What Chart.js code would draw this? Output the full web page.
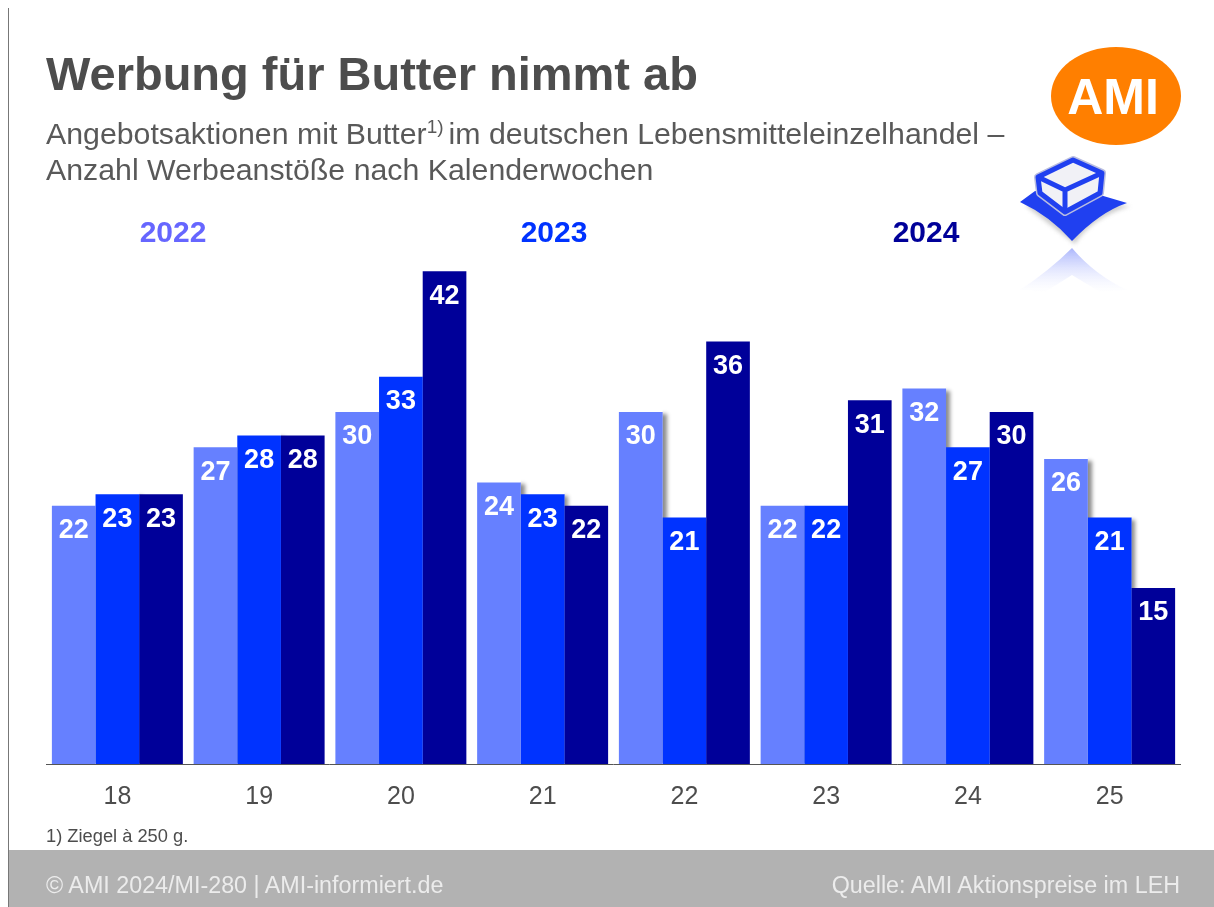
<!DOCTYPE html>
<html lang="de">
<head>
<meta charset="utf-8">
<title>Werbung für Butter nimmt ab</title>
<script src="https://cdn.jsdelivr.net/npm/chart.js@4"></script>
<style>
  html, body { margin: 0; padding: 0; background: #fff; }
  body { position: relative; width: 1214px; height: 907px; overflow: hidden; font-family: "Liberation Sans", Arial, sans-serif; }
  canvas { position: absolute; left: 0; top: 0; }
  .txt { position: absolute; white-space: nowrap; line-height: 1; }
  #title { left: 46px; top: 50px; font-size: 47px; font-weight: bold; color: #4d4d4d; }
  .sub { left: 46px; font-size: 30.3px; color: #595959; }
  .sub sup { font-size: 19px; line-height: 0; vertical-align: 11px; margin-right: 5px; }
  .year { top: 217px; font-size: 30px; font-weight: bold; transform: translateX(-50%); }
  #note { left: 46px; top: 827px; font-size: 18.3px; color: #4d4d4d; }
  #footer { position: absolute; left: 9px; top: 850px; width: 1205px; height: 57px; background: #b2b2b2; }
  #rule { position: absolute; left: 8px; top: 8px; width: 1px; height: 899px; background: #777; }
  .foot { top: 874px; font-size: 23.3px; color: #ececec; }
  #logo { position: absolute; left: 1000px; top: 30px; }
</style>
</head>
<body>
<div id="footer"></div>
<div id="rule"></div>
<canvas id="chart" width="1214" height="907"></canvas>

<div class="txt" id="title">Werbung für Butter nimmt ab</div>
<div class="txt sub" style="top:119px">Angebotsaktionen mit Butter<sup>1)</sup>im deutschen Lebensmitteleinzelhandel –</div>
<div class="txt sub" style="top:155px">Anzahl Werbeanstöße nach Kalenderwochen</div>
<div class="txt year" style="left:173px;color:#6666ff">2022</div>
<div class="txt year" style="left:554px;color:#0033ff">2023</div>
<div class="txt year" style="left:926px;color:#000099">2024</div>
<div class="txt" id="note">1) Ziegel à 250 g.</div>
<div class="txt foot" style="left:46px">© AMI 2024/MI-280 | AMI-informiert.de</div>
<div class="txt foot" style="right:34px">Quelle: AMI Aktionspreise im LEH</div>

<svg id="logo" width="214" height="280" viewBox="0 0 214 280">
  <defs>
    <linearGradient id="fade" x1="0" y1="0" x2="0" y2="1">
      <stop offset="0" stop-color="#8f9dfb" stop-opacity=".75"/>
      <stop offset="1" stop-color="#dfe4ff" stop-opacity="0"/>
    </linearGradient>
    <filter id="soft"><feGaussianBlur stdDeviation="2"/></filter>
  </defs>
  <ellipse cx="116" cy="66" rx="65" ry="49" fill="#ff7f00"/>
  <text x="113" y="84" text-anchor="middle" font-family="Liberation Sans" font-weight="bold" font-size="50" fill="#fff">AMI</text>
  <path d="M23 173 Q45 190 72 211 Q88 185 127 173 L36 163 Z" fill="#aaa" filter="url(#soft)" opacity=".6" transform="translate(3 3)"/>
  <path d="M20 172 L35 161 L100 165 L127 173 Q100 182 72 211 Q50 186 20 172 Z" fill="#2040f0"/>
  <path d="M38 147 L73 130 L102 143 L100 163 L65 182 L40 163 Z" fill="#f1f1f6" stroke="#b9bde0" stroke-width="8" stroke-linejoin="round"/>
  <path d="M38 147 L73 130 L102 143 L100 163 L65 182 L40 163 Z" fill="#f1f1f6" stroke="#2040f0" stroke-width="5" stroke-linejoin="round"/>
  <path d="M38 147 L65 160 L102 143 M65 160 L65 182" fill="none" stroke="#2040f0" stroke-width="5"/>
  <path d="M20 260 Q50 240 72 218 Q95 245 127 260 L100 262 L72 245 L45 262 Z" fill="url(#fade)"/>
</svg>

<script>
const weeks = ["18", "19", "20", "21", "22", "23", "24", "25"];
const values2022 = [22, 27, 30, 24, 30, 22, 32, 26];
const values2023 = [23, 28, 33, 23, 21, 22, 27, 21];
const values2024 = [23, 28, 42, 22, 36, 31, 30, 15];
const seriesNames = ["2022", "2023", "2024"];
const seriesColors = ["#6680ff", "#0033ff", "#000099"];

// shadows go down first so the neighbouring bars cover them
const barShadows = {
  id: "barShadows",
  beforeDatasetsDraw(chart) {
    const ctx = chart.ctx;
    [0, 1].forEach(i => {
      chart.getDatasetMeta(i).data.forEach(bar => {
        ctx.save();
        // only the right side throws a shadow, and never below the axis
        ctx.beginPath();
        ctx.rect(bar.x + bar.width / 2, 0, 12, bar.base - 1);
        ctx.clip();
        ctx.shadowColor = "rgba(0,0,0,.45)";
        ctx.shadowBlur = 4;
        ctx.shadowOffsetX = 4;
        ctx.shadowOffsetY = 2;
        ctx.fillStyle = seriesColors[i];
        ctx.fillRect(bar.x - bar.width / 2, bar.y, bar.width, bar.base - bar.y);
        ctx.restore();
      });
    });
  }
};

const barLabels = {
  id: "barLabels",
  afterDatasetsDraw(chart) {
    const ctx = chart.ctx;
    ctx.save();
    ctx.font = "bold 27px 'Liberation Sans'";
    ctx.fillStyle = "#fff";
    ctx.textAlign = "center";
    ctx.textBaseline = "middle";
    chart.data.datasets.forEach((ds, i) => {
      chart.getDatasetMeta(i).data.forEach((bar, j) => {
        ctx.fillText(ds.data[j], bar.x, bar.y + 25);
      });
    });
    ctx.restore();
  }
};

new Chart(document.getElementById("chart"), {
  type: "bar",
  data: {
    labels: weeks,
    datasets: [values2022, values2023, values2024].map((data, i) => ({
      label: seriesNames[i],
      data,
      backgroundColor: seriesColors[i]
    }))
  },
  options: {
    responsive: false,
    animation: false,
    layout: { padding: { left: 46.5, right: 33.5, top: 236, bottom: 93 } },
    datasets: { bar: { categoryPercentage: 0.924, barPercentage: 1 } },
    plugins: { legend: { display: false }, tooltip: { enabled: false } },
    scales: {
      x: {
        afterFit(scale) { scale.height = 50; },
        grid: { display: false },
        border: { color: "#555", width: 1 },
        ticks: { color: "#4d4d4d", padding: 10, maxRotation: 0, font: { family: "Liberation Sans", size: 25 } }
      },
      y: { display: false, min: 0, max: 45 }
    }
  },
  plugins: [barShadows, barLabels]
});
</script>
</body>
</html>
